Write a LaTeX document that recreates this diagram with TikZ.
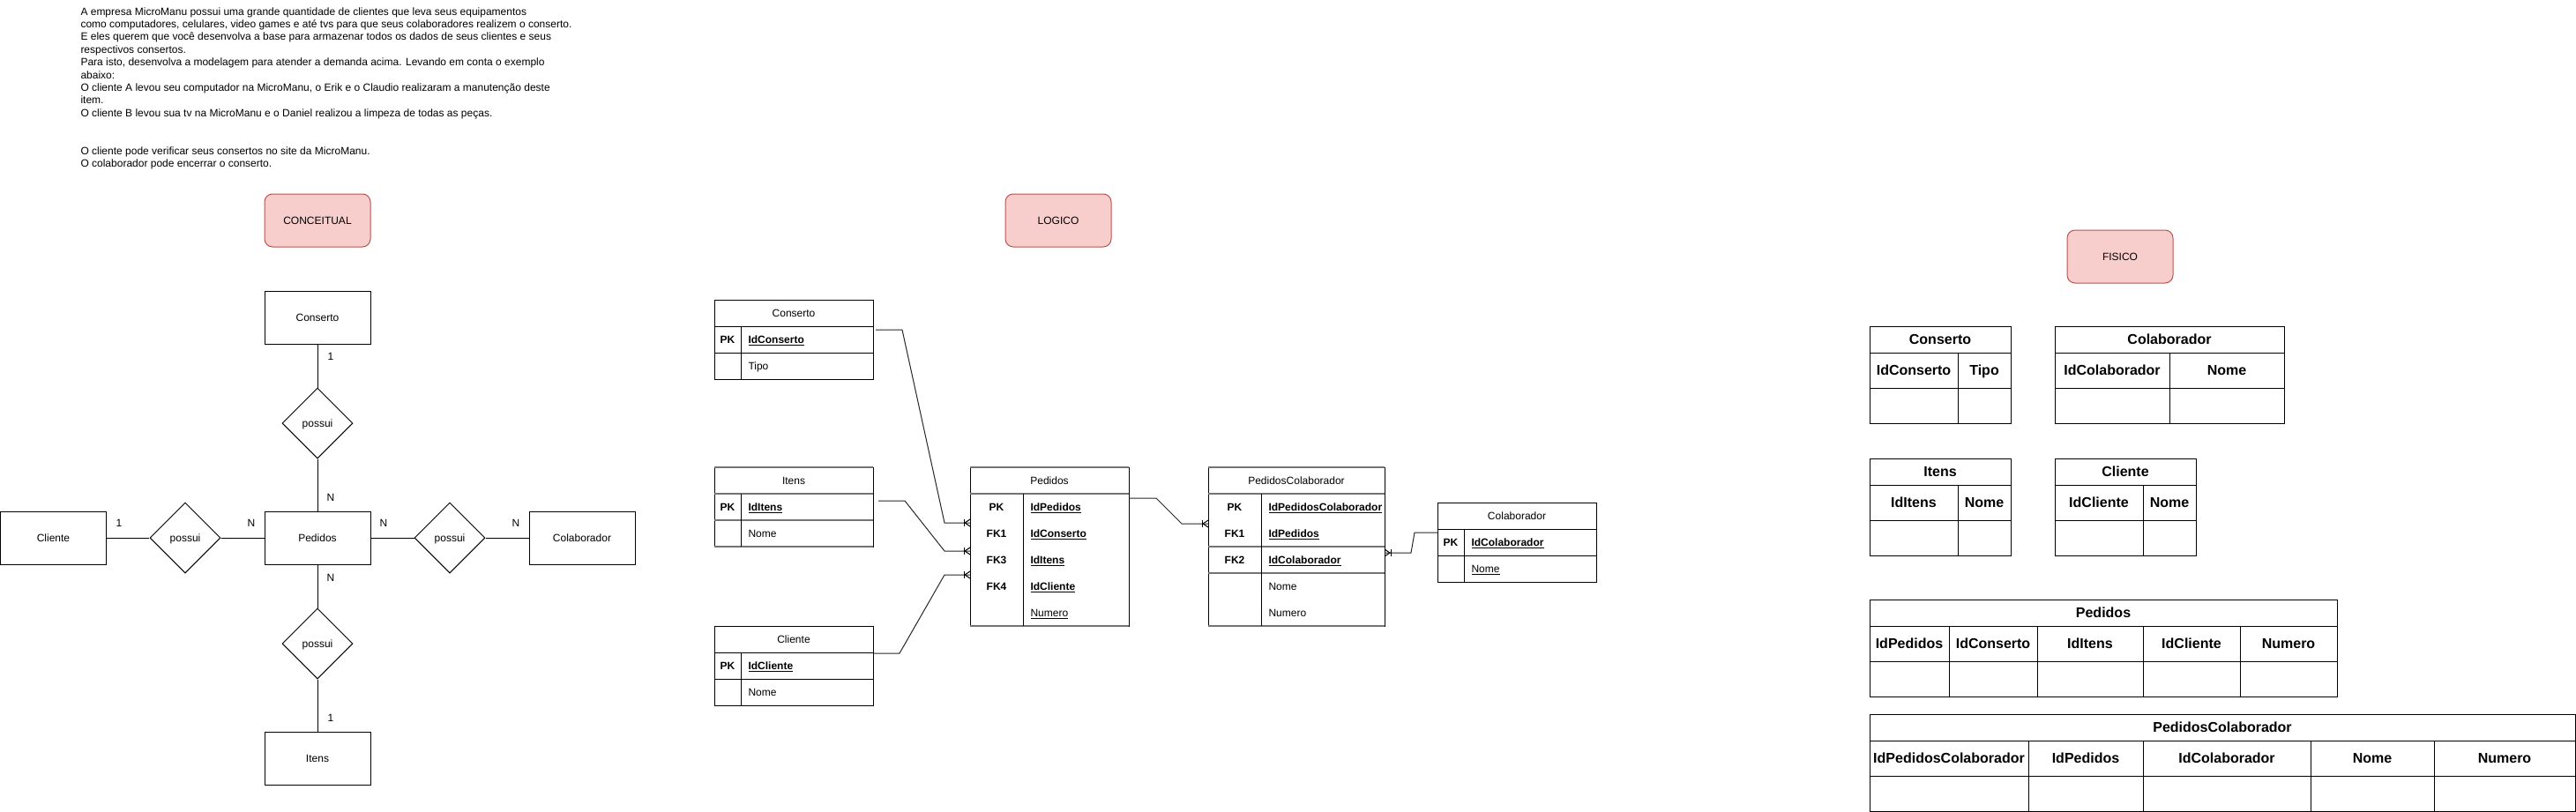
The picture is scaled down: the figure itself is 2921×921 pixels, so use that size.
\documentclass[tikz,border=0pt]{standalone}
\usepackage{fontspec}
\setmainfont{Liberation Sans}
\usetikzlibrary{shapes.geometric, positioning, calc}
\definecolor{modelfill}{HTML}{F8CECC}
\definecolor{modeldraw}{HTML}{B85450}
\tikzset{
  txt/.style={inner sep=0pt, text height=8.6pt, text depth=0pt,
              font=\fontsize{12}{14.4}\selectfont},
  keytxt/.style={txt, font=\fontsize{12}{14.4}\selectfont\bfseries},
  attr/.style={txt, anchor=west},
  keyattr/.style={attr, font=\fontsize{12}{14.4}\selectfont\bfseries},
  ptxt/.style={inner sep=0pt, text height=11.5pt, text depth=0pt,
               font=\fontsize{16}{19.2}\selectfont\bfseries},
  ent/.style={txt, draw, minimum width=120pt, minimum height=60pt},
  rel/.style={txt, draw, diamond, minimum width=80pt, minimum height=80pt},
  modelbox/.style={txt, draw=modeldraw, fill=modelfill, rounded corners=9pt,
                   minimum width=120pt, minimum height=60pt},
  tbl/.style={draw, anchor=north west, inner sep=0pt},
  heavy/.style={draw=black!55, line width=1.6pt},
  conn/.style={draw=black!85},
  crowfoot/.pic={
    \draw (-7,-4) -- (-7,4);
    \draw (0,-4) -- (-6,0) -- (0,4);
  }
}
\begin{document}
\begin{tikzpicture}[x=1pt, y=-1pt, line width=1pt]
  \useasboundingbox (0,0) rectangle (2921,921);
  % Enunciado
  \node[inner sep=0pt, anchor=north west, align=left,
        font=\fontsize{12}{14.4}\selectfont] (enunciado) at (91,8)
    {A empresa MicroManu possui uma grande quantidade de clientes que leva seus equipamentos\\
     como computadores, celulares, video games e até tvs para que seus colaboradores realizem o conserto.\\
     E eles querem que você desenvolva a base para armazenar todos os dados de seus clientes e seus\\
     respectivos consertos.\\
     Para isto, desenvolva a modelagem para atender a demanda acima. Levando em conta o exemplo\\
     abaixo:\\
     O cliente A levou seu computador na MicroManu, o Erik e o Claudio realizaram a manutenção deste\\
     item.\\
     O cliente B levou sua tv na MicroManu e o Daniel realizou a limpeza de todas as peças.\\[28.8pt]
     O cliente pode verificar seus consertos no site da MicroManu.\\
     O colaborador pode encerrar o conserto.};

  % Modelo conceitual
  \node[modelbox] (conceitual) at (360,250) {CONCEITUAL};
  \node[ent] (conserto) at (360,360) {Conserto};
  \node[rel] (relcons) at (360,480) {possui};
  \node[ent] (pedidos) at (360,610) {Pedidos};
  \node[ent] (cliente) at (60.5,610) {Cliente};
  \node[rel] (relcli) at (210,610) {possui};
  \node[rel] (relcol) at (510,610) {possui};
  \node[ent] (colaborador) at (660,610) {Colaborador};
  \node[rel] (relitens) at (360,730) {possui};
  \node[ent] (itens) at (360,860) {Itens};
  \draw (conserto) -- (relcons) -- (pedidos);
  \draw (cliente) -- (relcli) -- (pedidos);
  \draw (pedidos) -- (relcol) -- (colaborador);
  \draw (pedidos) -- (relitens) -- (itens);
  \node[txt] at (375,404) {1};
  \node[txt] at (375,564) {N};
  \node[txt] at (135,593) {1};
  \node[txt] at (285,593) {N};
  \node[txt] at (435,593) {N};
  \node[txt] at (585,593) {N};
  \node[txt] at (375,655) {N};
  \node[txt] at (375,814) {1};

  % Modelo logico
  \node[modelbox] (logico) at (1200,250) {LOGICO};
  % Conserto
  \node[tbl, minimum width=180pt, minimum height=90pt] (lconserto) at (810,340) {};
  \draw (810,370) -- (990,370) (810,400) -- (990,400) (840,370) -- (840,430);
  \node[txt] at (900,355) {Conserto};
  \node[keytxt] at (825,385) {PK};
  \node[keyattr] at (848,385) {\underline{IdConserto}};
  \node[attr] at (848,415) {Tipo};
  % Itens
  \node[tbl, minimum width=180pt, minimum height=90pt] (litens) at (810,530) {};
  \draw[heavy] (810,530) -- (990,530) (810,560) -- (990,560)
               (810,590) -- (990,590) (810,620) -- (990,620);
  \draw (840,560) -- (840,620);
  \node[txt] at (900,545) {Itens};
  \node[keytxt] at (825,575) {PK};
  \node[keyattr] at (848,575) {\underline{IdItens}};
  \node[attr] at (848,605) {Nome};
  % Cliente
  \node[tbl, minimum width=180pt, minimum height=90pt] (lcliente) at (810,710) {};
  \draw (810,740) -- (990,740) (810,770) -- (990,770) (840,740) -- (840,800);
  \node[txt] at (900,725) {Cliente};
  \node[keytxt] at (825,755) {PK};
  \node[keyattr] at (848,755) {\underline{IdCliente}};
  \node[attr] at (848,785) {Nome};
  % Pedidos
  \node[tbl, minimum width=180pt, minimum height=180pt] (lpedidos) at (1100,530) {};
  \draw[heavy] (1100,530) -- (1280,530) (1100,560) -- (1280,560) (1100,710) -- (1280,710);
  \draw (1160,560) -- (1160,710);
  \node[txt] at (1190,545) {Pedidos};
  \node[keytxt] at (1130,575) {PK};
  \node[keytxt] at (1130,605) {FK1};
  \node[keytxt] at (1130,635) {FK3};
  \node[keytxt] at (1130,665) {FK4};
  \node[keyattr] at (1168,575) {\underline{IdPedidos}};
  \node[keyattr] at (1168,605) {\underline{IdConserto}};
  \node[keyattr] at (1168,635) {\underline{IdItens}};
  \node[keyattr] at (1168,665) {\underline{IdCliente}};
  \node[attr] at (1168,695) {\underline{Numero}};
  % PedidosColaborador
  \node[tbl, minimum width=200pt, minimum height=180pt] (lpedcol) at (1370,530) {};
  \draw[heavy] (1370,530) -- (1570,530) (1370,560) -- (1570,560) (1370,620) -- (1570,620)
               (1370,650) -- (1570,650) (1370,710) -- (1570,710);
  \draw (1430,560) -- (1430,710);
  \node[txt] at (1470,545) {PedidosColaborador};
  \node[keytxt] at (1400,575) {PK};
  \node[keytxt] at (1400,605) {FK1};
  \node[keytxt] at (1400,635) {FK2};
  \node[keyattr] at (1438,575) {\underline{IdPedidosColaborador}};
  \node[keyattr] at (1438,605) {\underline{IdPedidos}};
  \node[keyattr] at (1438,635) {\underline{IdColaborador}};
  \node[attr] at (1438,665) {Nome};
  \node[attr] at (1438,695) {Numero};
  % Colaborador
  \node[tbl, minimum width=180pt, minimum height=90pt] (lcolab) at (1630,570) {};
  \draw (1630,600) -- (1810,600) (1630,630) -- (1810,630) (1660,600) -- (1660,660);
  \node[txt] at (1720,585) {Colaborador};
  \node[keytxt] at (1645,615) {PK};
  \node[keyattr] at (1668,615) {\underline{IdColaborador}};
  \node[attr] at (1668,645) {\underline{Nome}};
  % Relacionamentos
  \coordinate (consout) at (993,374);
  \coordinate (itensout) at (996,568);
  \coordinate (cliout) at (990,741);
  \coordinate (pedout) at (1280,565);
  \coordinate (colout) at (1630,604);
  \coordinate (pedfk1) at (1100,593);
  \coordinate (pedfk3) at (1100,625);
  \coordinate (pedfk4) at (1100,652);
  \coordinate (pcfk1) at (1370,594);
  \coordinate (pcfk2) at (1570,627);
  \draw[conn] (consout) -- ++(30,0) -- ([xshift=-29pt]pedfk1) -- (pedfk1);
  \draw[conn] (itensout) -- ++(30,0) -- ([xshift=-29pt]pedfk3) -- (pedfk3);
  \draw[conn] (cliout) -- ++(30,0) -- ([xshift=-29pt]pedfk4) -- (pedfk4);
  \draw[conn] (pedout) -- ++(31,0) -- ([xshift=-30pt]pcfk1) -- (pcfk1);
  \draw[conn] (colout) -- ++(-26,0) -- ([xshift=30pt]pcfk2) -- (pcfk2);
  \pic at (pedfk1) {crowfoot};
  \pic at (pedfk3) {crowfoot};
  \pic at (pedfk4) {crowfoot};
  \pic at (pcfk1) {crowfoot};
  \pic[xscale=-1] at (pcfk2) {crowfoot};

  % Modelo fisico
  \node[modelbox] (fisico) at (2404,291) {FISICO};
  % Conserto
  \node[tbl, minimum width=160pt, minimum height=110pt] (fconserto) at (2120,370) {};
  \draw (2120,400) -- (2280,400) (2120,440) -- (2280,440) (2220,400) -- (2220,480);
  \node[ptxt] at (2200,385) {Conserto};
  \node[ptxt] at (2170,420) {IdConserto};
  \node[ptxt] at (2250,420) {Tipo};
  % Colaborador
  \node[tbl, minimum width=260pt, minimum height=110pt] (fcolab) at (2330,370) {};
  \draw (2330,400) -- (2590,400) (2330,440) -- (2590,440) (2460,400) -- (2460,480);
  \node[ptxt] at (2460,385) {Colaborador};
  \node[ptxt] at (2395,420) {IdColaborador};
  \node[ptxt] at (2525,420) {Nome};
  % Itens
  \node[tbl, minimum width=160pt, minimum height=110pt] (fitens) at (2120,520) {};
  \draw (2120,550) -- (2280,550) (2120,590) -- (2280,590) (2220,550) -- (2220,630);
  \node[ptxt] at (2200,535) {Itens};
  \node[ptxt] at (2170,570) {IdItens};
  \node[ptxt] at (2250,570) {Nome};
  % Cliente
  \node[tbl, minimum width=160pt, minimum height=110pt] (fcliente) at (2330,520) {};
  \draw (2330,550) -- (2490,550) (2330,590) -- (2490,590) (2430,550) -- (2430,630);
  \node[ptxt] at (2410,535) {Cliente};
  \node[ptxt] at (2380,570) {IdCliente};
  \node[ptxt] at (2460,570) {Nome};
  % Pedidos
  \node[tbl, minimum width=530pt, minimum height=110pt] (fpedidos) at (2120,680) {};
  \draw (2120,710) -- (2650,710) (2120,750) -- (2650,750);
  \foreach \cx in {2210,2310,2430,2540} \draw (\cx,710) -- (\cx,790);
  \node[ptxt] at (2385,695) {Pedidos};
  \node[ptxt] at (2165,730) {IdPedidos};
  \node[ptxt] at (2260,730) {IdConserto};
  \node[ptxt] at (2370,730) {IdItens};
  \node[ptxt] at (2485,730) {IdCliente};
  \node[ptxt] at (2595,730) {Numero};
  % PedidosColaborador
  \node[tbl, minimum width=800pt, minimum height=110pt] (fpedcol) at (2120,810) {};
  \draw (2120,840) -- (2920,840) (2120,880) -- (2920,880);
  \foreach \cx in {2300,2430,2620,2760} \draw (\cx,840) -- (\cx,920);
  \node[ptxt] at (2520,825) {PedidosColaborador};
  \node[ptxt] at (2210,860) {IdPedidosColaborador};
  \node[ptxt] at (2365,860) {IdPedidos};
  \node[ptxt] at (2525,860) {IdColaborador};
  \node[ptxt] at (2690,860) {Nome};
  \node[ptxt] at (2840,860) {Numero};
\end{tikzpicture}
\end{document}
